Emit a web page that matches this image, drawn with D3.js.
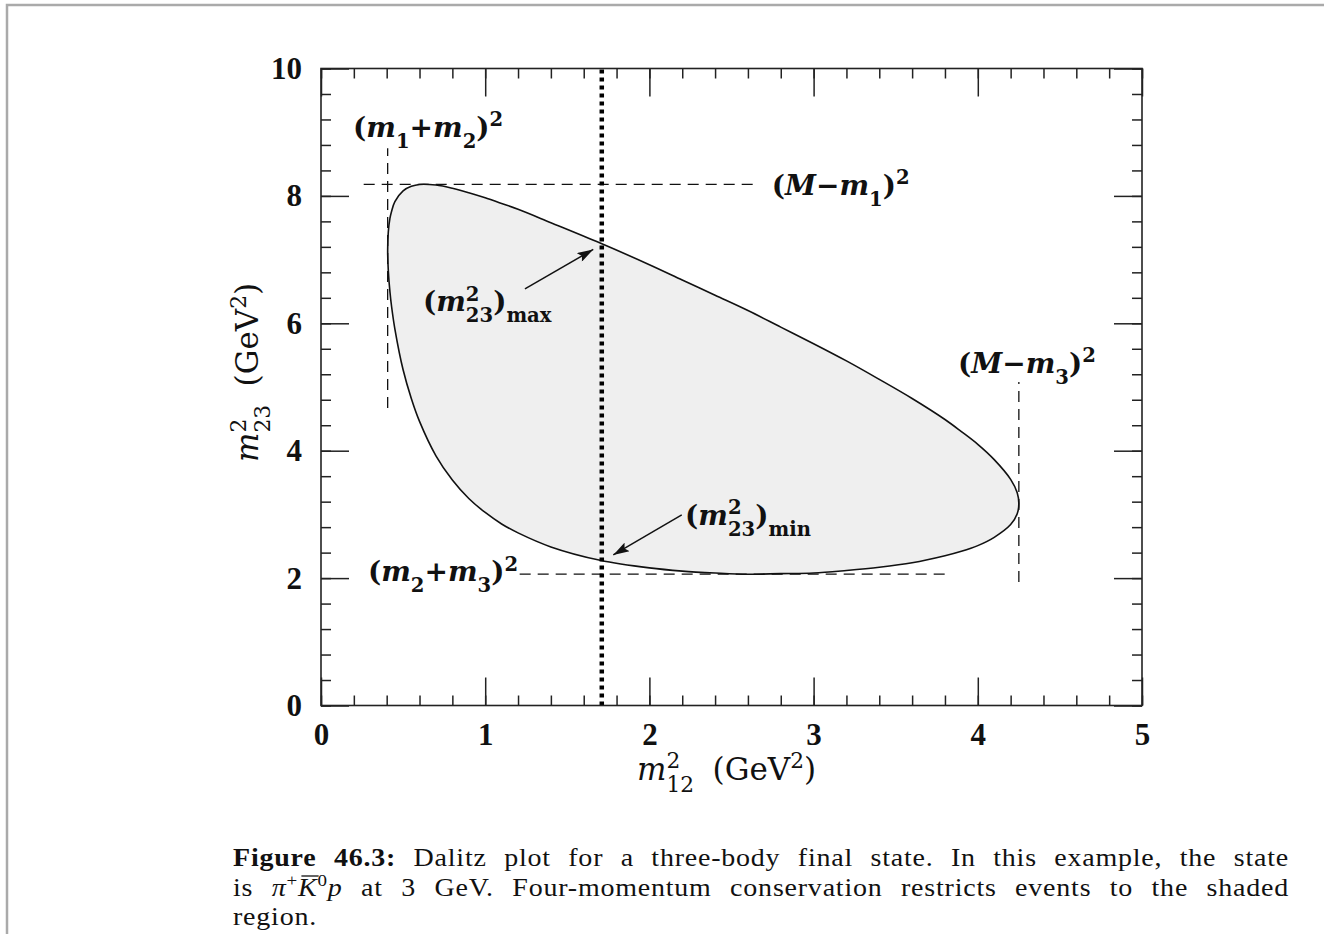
<!DOCTYPE html>
<html>
<head>
<meta charset="utf-8">
<script src="https://cdn.jsdelivr.net/npm/d3@7"></script>
<style>
body{margin:0;background:#fff}
svg{display:block}
.tick text{font-family:'Liberation Serif',serif;font-weight:bold;font-size:31px;fill:#111}
.lbl{font-family:'DejaVu Serif',serif;fill:#111}
.cap{font-family:'Liberation Serif',serif;font-size:25px;letter-spacing:0.7px;fill:#111}
</style>
</head>
<body>
<script>
// Dalitz boundary (m12^2 -> upper / lower m23^2)
const m12sq    = [0.406,0.41,0.42,0.43,0.45,0.50,0.55,0.60,0.70,0.80,0.90,1.00,1.10,1.20,1.40,1.70,2.00,2.20,2.40,2.60,2.80,3.00,3.20,3.40,3.60,3.80,3.90,4.00,4.10,4.20,4.24,4.25]
const m23sqMax = [7.15,7.44,7.65,7.76,7.91,8.08,8.15,8.18,8.17,8.12,8.05,7.97,7.88,7.79,7.58,7.26,6.92,6.68,6.44,6.20,5.94,5.68,5.41,5.12,4.82,4.49,4.30,4.10,3.86,3.55,3.34,3.17]
const m23sqMin = [7.15,6.82,6.49,6.26,5.91,5.27,4.82,4.46,3.92,3.54,3.25,3.03,2.85,2.71,2.49,2.28,2.16,2.11,2.08,2.06,2.07,2.08,2.12,2.17,2.24,2.35,2.42,2.51,2.64,2.84,3.01,3.17]

const xTicks = [0,1,2,3,4,5]
const yTicks = [0,2,4,6,8,10]
const cutM12 = 1.71

// dashed kinematic limits [x1,y1,x2,y2]
const guides = [
    [0.406,4.67,0.406,8.75],
    [0.26,8.18,2.63,8.18],
    [1.21,2.062,3.80,2.062],
    [4.25,1.94,4.25,5.08]
]
// arrows [tailX,tailY,tipX,tipY]
const arrows = [[1.242,6.54,1.658,7.16],[2.197,2.991,1.780,2.363]]
// annotation anchors (left, baseline)
const labelPos = [[0.195,8.93],[2.745,8.02],[0.621,6.19],[3.879,5.22],[2.217,2.84],[0.286,1.95]]
const labelParts = [
    [['(',''],['m','i'],['1','sub'],['+',''],['m','i'],['2','sub'],[')',''],['2','sup']],
    [['(',''],['M','i'],['−',''],['m','i'],['1','sub'],[')',''],['2','sup']],
    [['(',''],['m','i'],['2','sup'],['23','stack'],[')',''],['max','sub']],
    [['(',''],['M','i'],['−',''],['m','i'],['3','sub'],[')',''],['2','sup']],
    [['(',''],['m','i'],['2','sup'],['23','stack'],[')',''],['min','sub']],
    [['(',''],['m','i'],['2','sub'],['+',''],['m','i'],['3','sub'],[')',''],['2','sup']]
]

const W = 1324, H = 934
const svg = d3.select('body').append('svg').attr('width',W).attr('height',H)

// page border
svg.append('path').attr('d',`M7,${H} V5 H${W}`).attr('fill','none').attr('stroke','#aaa').attr('stroke-width',2.5)

const x = d3.scaleLinear().domain([0,5]).range([321,1142])
const y = d3.scaleLinear().domain([0,10]).range([705.5,68.5])

// shaded region
const loop = m12sq.map((d,i)=>[d,m23sqMax[i]])
    .concat(m12sq.slice(1,-1).map((d,i)=>[d,m23sqMin[i+1]]).reverse())
const area = d3.line().x(d=>x(d[0])).y(d=>y(d[1])).curve(d3.curveCatmullRomClosed.alpha(0.5))
svg.append('path').attr('d',area(loop)).attr('fill','#efefef').attr('stroke','#111').attr('stroke-width',1.6)

// dashed guides
svg.append('g').selectAll('line').data(guides).enter().append('line')
    .attr('x1',d=>x(d[0])).attr('y1',d=>y(d[1])).attr('x2',d=>x(d[2])).attr('y2',d=>y(d[3]))
    .attr('stroke','#111').attr('stroke-width',1.3).attr('stroke-dasharray','11,7')

// dotted cut
svg.append('line').attr('x1',x(cutM12)).attr('x2',x(cutM12)).attr('y1',y(0)).attr('y2',y(10))
    .attr('stroke','#000').attr('stroke-width',4.5).attr('stroke-dasharray','4,4')

// arrows
svg.append('defs').append('marker').attr('id','head')
    .attr('viewBox','0 0 16 10').attr('refX',16).attr('refY',5)
    .attr('markerWidth',17).attr('markerHeight',10).attr('markerUnits','userSpaceOnUse').attr('orient','auto')
    .append('path').attr('d','M0,0 L16,5 L0,10 L3,5 Z').attr('fill','#111')
svg.append('g').selectAll('line').data(arrows).enter().append('line')
    .attr('x1',d=>x(d[0])).attr('y1',d=>y(d[1])).attr('x2',d=>x(d[2])).attr('y2',d=>y(d[3]))
    .attr('stroke','#111').attr('stroke-width',1.5).attr('marker-end','url(#head)')

// axes: ticks inward on all four sides
const xMinor = d3.range(0,5.001,0.2), yMinor = d3.range(0,10.001,0.4)
const axisG = (ax,tr) => svg.append('g').attr('transform',tr).call(ax).call(g=>g.select('.domain').remove())
    .call(g=>g.selectAll('line').attr('stroke','#222').attr('stroke-width',1.5))
axisG(d3.axisBottom(x).tickValues(xMinor).tickSize(-10).tickFormat(''),`translate(0,${y(0)})`)
axisG(d3.axisTop(x).tickValues(xMinor).tickSize(-10).tickFormat(''),`translate(0,${y(10)})`)
axisG(d3.axisLeft(y).tickValues(yMinor).tickSize(-10).tickFormat(''),`translate(${x(0)},0)`)
axisG(d3.axisRight(y).tickValues(yMinor).tickSize(-10).tickFormat(''),`translate(${x(5)},0)`)
axisG(d3.axisBottom(x).tickValues(xTicks).tickSize(-28).tickPadding(17).tickFormat(d3.format('d')),`translate(0,${y(0)})`)
axisG(d3.axisTop(x).tickValues(xTicks).tickSize(-28).tickFormat(''),`translate(0,${y(10)})`)
axisG(d3.axisLeft(y).tickValues(yTicks).tickSize(-28).tickPadding(19).tickFormat(d3.format('d')),`translate(${x(0)},0)`)
axisG(d3.axisRight(y).tickValues(yTicks).tickSize(-28).tickFormat(''),`translate(${x(5)},0)`)
svg.append('rect').attr('x',x(0)).attr('y',y(10)).attr('width',x(5)-x(0)).attr('height',y(0)-y(10))
    .attr('fill','none').attr('stroke','#222').attr('stroke-width',1.6)

// math text helper
function mathText(sel, px, py, parts, size, bold){
    const t = sel.append('text').attr('x',px).attr('y',py).attr('class','lbl')
        .style('font-size',size+'px').style('font-weight',bold?'bold':'normal')
    let cur = 0, lastSup = null
    parts.forEach(([s,k])=>{
        const ts = t.append('tspan').text(s)
        let off = 0, fs = size
        if(k==='sub'||k==='stack'){off = size*0.4; fs = size*0.7}
        if(k==='sup'){off = -size*0.38; fs = size*0.7}
        ts.attr('dy',off-cur).style('font-size',fs+'px'); cur = off
        if(k==='i') ts.style('font-style','italic')
        if(k==='sup') lastSup = ts
        if(k==='stack' && lastSup) ts.attr('dx',-lastSup.node().getComputedTextLength())
        if(k==='gap') ts.attr('dx',size*0.6)
    })
    return t
}
labelParts.forEach((p,i)=>mathText(svg,x(labelPos[i][0]),y(labelPos[i][1]),p,28,true))

// axis titles
mathText(svg,637,780,[['m','i'],['2','sup'],['12','stack'],['(GeV','gap'],['2','sup'],[')','']],31,false)
const yl = mathText(svg,0,0,[['m','i'],['2','sup'],['23','stack'],['(GeV','gap'],['2','sup'],[')','']],31,false)
yl.attr('transform','translate(258,462) rotate(-90)')

// caption: glyphs widened a little, lines justified by the word spaces
const capW = 1056, capX = 233, capSx = 1.12
function capLine(py, parts, justify){
    const g = svg.append('g').attr('transform',`translate(${capX},${py}) scale(${capSx},1)`)
    const t = g.append('text').attr('class','cap').attr('x',0).attr('y',0)
    let cur = 0
    parts.forEach(([s,k])=>{
        const ts = t.append('tspan').text(s)
        let off = 0
        if(k==='sup'){off = -10; ts.style('font-size','17px')}
        ts.attr('dy',off-cur); cur = off
        if(k==='b') ts.style('font-weight','bold')
        if(k==='i'||k==='ibar') ts.style('font-style','italic')
    })
    if(justify){
        const nat = t.node().getComputedTextLength()
        const spaces = t.text().split(' ').length-1
        t.style('word-spacing',((capW/capSx-nat)/spaces)+'px')
    }
    const kIdx = t.text().indexOf('K')
    if(parts.some(p=>p[1]==='ibar')){
        const k0 = t.node().getStartPositionOfChar(kIdx), k1 = t.node().getEndPositionOfChar(kIdx)
        g.append('line').attr('x1',k0.x+3).attr('x2',k1.x+1).attr('y1',-20).attr('y2',-20)
            .attr('stroke','#111').attr('stroke-width',1.3)
    }
    return t
}
capLine(866,[['Figure 46.3:','b'],[' Dalitz plot for a three-body final state. In this example, the state','']],true)
capLine(896,[['is ',''],['π','i'],['+','sup'],['K','ibar'],['0','sup'],['p','i'],[' at 3 GeV. Four-momentum conservation restricts events to the shaded','']],true)
capLine(925,[['region.','']],false)
</script>
</body>
</html>
